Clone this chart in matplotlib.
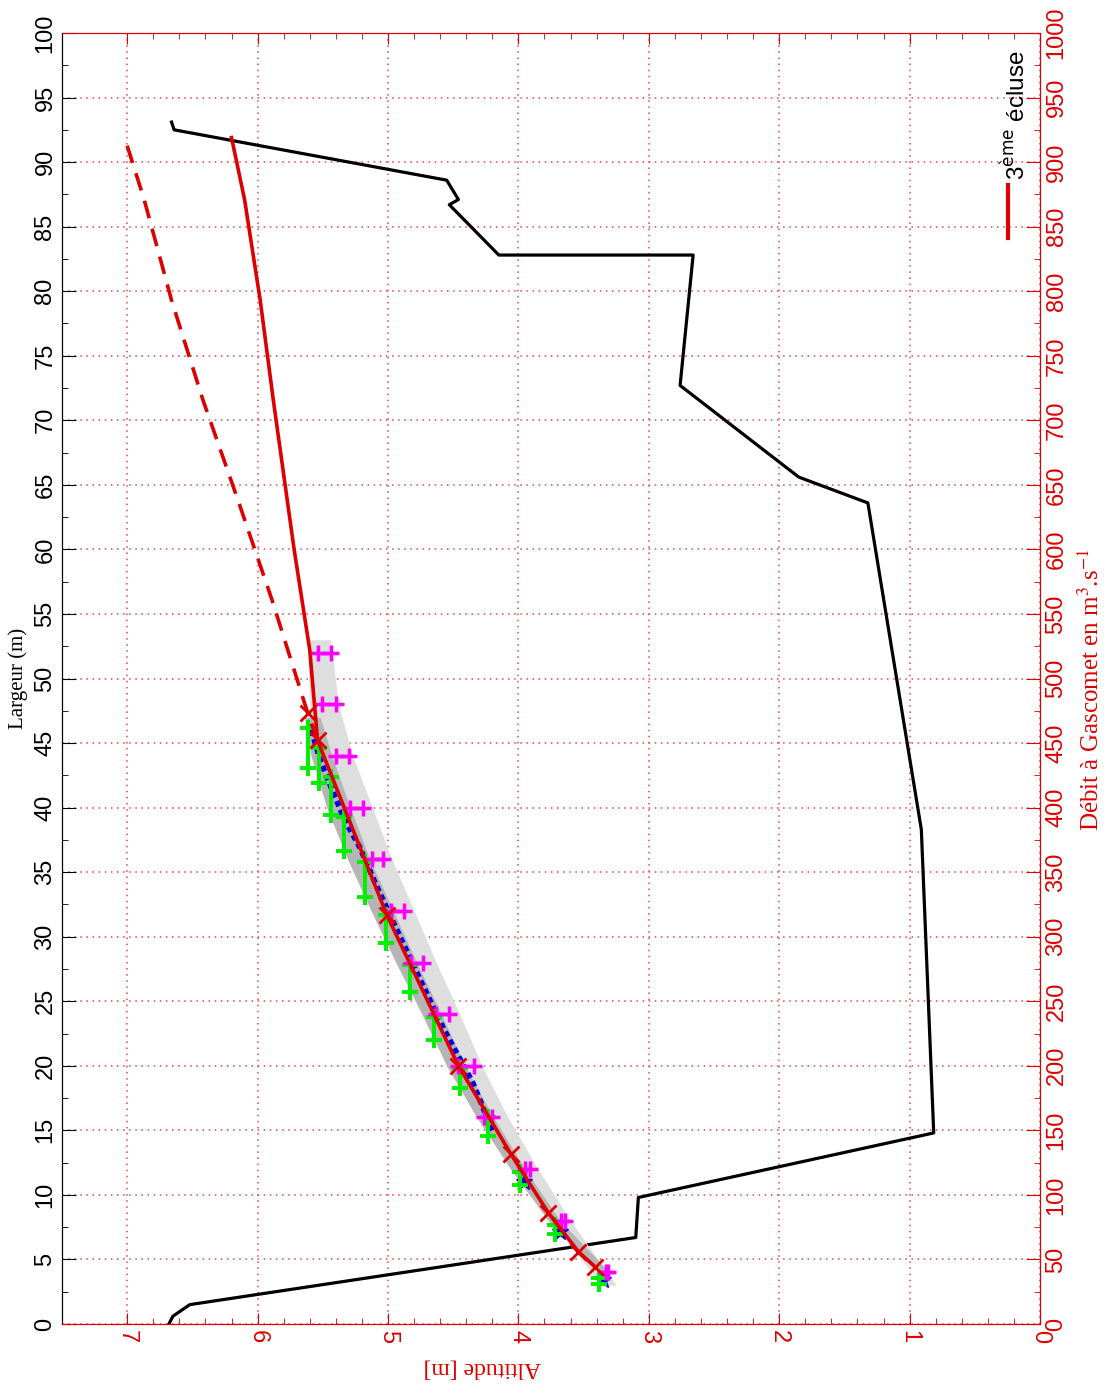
import numpy as np
import matplotlib.pyplot as plt
from matplotlib.lines import Line2D
from matplotlib.ticker import MultipleLocator, FixedLocator

plt.rcParams['font.family'] = ['Liberation Sans', 'DejaVu Sans']

# channel cross-section: altitude (m) -> width (m)
prof_alt = [6.68, 6.65, 6.52, 3.10, 3.08, 0.815, 0.91, 1.32, 1.85, 2.76, 2.66,
            4.15, 4.53, 4.46, 4.55, 6.64, 6.66]
prof_larg = [0.0, 0.6, 1.5, 6.7, 9.8, 14.8, 38.3, 63.6, 65.6, 72.7, 82.8,
             82.8, 86.7, 87.1, 88.6, 92.5, 93.1]

# rating curve of the 3rd lock: altitude (m) -> discharge (m3/s)
rc_alt = [3.41, 3.54, 3.77, 4.06, 4.46, 5.01, 5.54, 5.60, 5.72, 5.88, 5.98, 6.10, 6.20]
rc_q = [44, 56, 86, 132, 200, 317, 452, 522, 600, 716, 793, 871, 919]

# gauged points (crosses)
gx_alt = [3.41, 3.54, 3.77, 4.06, 4.46, 5.01, 5.54, 5.615]
gx_q = [44, 56, 86, 132, 200, 317, 452, 473]

# extrapolated branch
ext_alt = [5.54, 5.615, 5.89, 6.15, 6.42, 6.66, 6.87, 7.02]
ext_q = [452, 473, 561, 638, 716, 793, 871, 919]

# dense measured points
blue_alt = [4.20, 4.35, 4.57, 4.75, 4.94, 5.10, 5.215, 5.33, 5.43, 5.52, 5.60]
blue_q = [150, 187, 228, 266, 307, 342, 369, 390, 414, 437, 464]
blue_low_alt = [3.35, 3.68, 3.96]
blue_low_q = [34, 71, 110]

# discharge ranges at fixed altitude
g_alt = [3.38, 3.72, 3.985, 4.23, 4.45, 4.65, 4.83, 5.015, 5.18, 5.34, 5.44, 5.53, 5.615]
g_lo = [31, 70, 108, 146, 183, 220, 257, 295, 331, 366, 394, 419, 431]
g_hi = [36, 77, 118, 160, 198, 238, 278, 317, 358, 393, 424, 446, 462]

# altitude ranges at fixed discharge
m_q = [40, 80, 120, 160, 200, 240, 280, 320, 360, 400, 440, 480, 520]
m_alt = [3.32, 3.66, 3.93, 4.23, 4.40, 4.58, 4.78, 4.93, 5.08, 5.24, 5.35, 5.45, 5.49]
m_err = [0.01, 0.015, 0.02, 0.03, 0.06, 0.05, 0.045, 0.05, 0.045, 0.05, 0.05, 0.055, 0.05]

# uncertainty bands
band_q = [30, 80, 120, 160, 200, 240, 280, 320, 360, 400, 440, 480, 530]
light_hi = [3.36, 3.75, 4.03, 4.28, 4.50, 4.69, 4.88, 5.06, 5.24, 5.39, 5.52, 5.60, 5.62]
light_lo = [3.25, 3.60, 3.85, 4.08, 4.28, 4.45, 4.63, 4.80, 4.97, 5.12, 5.27, 5.38, 5.44]
dark_q = [40, 80, 120, 160, 200, 240, 280, 320, 360, 400, 440, 470]
dark_hi = [3.38, 3.77, 4.06, 4.32, 4.55, 4.74, 4.94, 5.13, 5.31, 5.47, 5.59, 5.64]
dark_lo = [3.30, 3.68, 3.95, 4.19, 4.41, 4.59, 4.78, 4.96, 5.14, 5.29, 5.43, 5.52]

red = '#dd0000'
fig = plt.figure(figsize=(11.13, 13.85), dpi=100)
ax = fig.add_axes([62 / 1113, 61 / 1385, 978 / 1113, 1291 / 1385])
ax2 = ax.twinx()

ax.plot(prof_alt, prof_larg, color='black', lw=2.3, zorder=3)

ax2.fill_betweenx(band_q, light_lo, light_hi, color='#dedede', lw=0, zorder=1)
ax2.fill_betweenx(dark_q, dark_lo, dark_hi, color='#b5b5b5', lw=0, zorder=1)
ax2.plot(blue_alt, blue_q, color='#0000ee', lw=4, ls=(0, (1.0, 0.7)), zorder=2)
ax2.plot(blue_low_alt, blue_low_q, ls='', marker='*', ms=12, color='#0000ee', zorder=2)
for a, lo, hi in zip(g_alt, g_lo, g_hi):
    ax2.plot([a, a], [lo, hi], color='#00ee00', lw=2.8, marker='+', ms=11, mew=2.8, zorder=3)
for q, a, e in zip(m_q, m_alt, m_err):
    ax2.plot([a - e, a + e], [q, q], color='#ff00ff', lw=2.5, marker='+', ms=11, mew=2.5, zorder=3)
ax2.plot(ext_alt, ext_q, color=red, lw=2.6, ls=(0, (5, 3)), zorder=4)
ax2.plot(rc_alt, rc_q, color=red, lw=2.6, zorder=4)
ax2.plot(gx_alt, gx_q, ls='', marker='x', ms=11, mew=2, color=red, zorder=5)

# axes limits and ticks
ax.set_xlim(7.5, 0)
ax.set_ylim(0, 100)
ax2.set_ylim(0, 1000)
ax.set_xticks(range(0, 8))
ax.xaxis.set_minor_locator(FixedLocator(np.arange(0, 7.01, 0.2)))
ax.yaxis.set_major_locator(MultipleLocator(5))
ax.yaxis.set_minor_locator(MultipleLocator(2.5))
ax2.yaxis.set_major_locator(MultipleLocator(50))
ax2.yaxis.set_minor_locator(MultipleLocator(25))

ax.grid(True, which='major', color='#ee4444', ls=(0, (1, 3)), lw=1.1)
ax.set_axisbelow(True)

ax.tick_params(axis='x', which='both', direction='in', top=True, colors=red, labelsize=17, pad=4)
ax.tick_params(axis='x', which='major', length=8)
ax.tick_params(axis='x', which='minor', length=4)
ax.tick_params(axis='y', which='both', direction='in', colors='black', labelsize=17, pad=4)
ax.tick_params(axis='y', which='major', length=10)
ax.tick_params(axis='y', which='minor', length=4)
ax2.tick_params(axis='y', which='both', direction='in', colors=red, labelsize=17, pad=4)
ax2.tick_params(axis='y', which='major', length=10)
ax2.tick_params(axis='y', which='minor', length=4)

for lab in ax.get_xticklabels():
    lab.set_rotation(-90)
    lab.set_va('top')
    lab.set_ha('center')
for lab in ax.get_yticklabels():
    lab.set_rotation(90)
    lab.set_va('center')
for lab in ax2.get_yticklabels():
    lab.set_rotation(90)
    lab.set_va('center')

ax.spines['left'].set_color('black')
for s in ('bottom', 'top', 'right'):
    ax.spines[s].set_color(red)
    ax2.spines[s].set_color(red)
ax2.spines['left'].set_color('black')

serif = ['Liberation Serif', 'DejaVu Serif']
ax.set_xlabel('Altitude [m]', family=serif, color=red, fontsize=17, rotation=180, va='center')
ax.xaxis.set_label_coords(0.43, -0.034)
ax.set_ylabel('Largeur (m)', family=serif, color='black', fontsize=15, va='center')
ax.yaxis.set_label_coords(-0.045, 0.5)
ax2.set_ylabel('Débit à Gascomet en m$^3$.s$^{-1}$', family=serif, color=red, fontsize=18,
               rotation=90, va='center', math_fontfamily='stix')
ax2.yaxis.set_label_coords(1.052, 0.491)

# legend
ax.add_line(Line2D([0.967, 0.967], [0.841, 0.882], transform=ax.transAxes, color=red, lw=3,
                   clip_on=False))
ax.text(0.975, 0.886, '3$^{\\mathrm{ème}}$ écluse', transform=ax.transAxes, rotation=90,
        ha='center', va='bottom', fontsize=17.5, color='black', math_fontfamily='dejavusans')

fig.savefig('out.png', dpi=100)
